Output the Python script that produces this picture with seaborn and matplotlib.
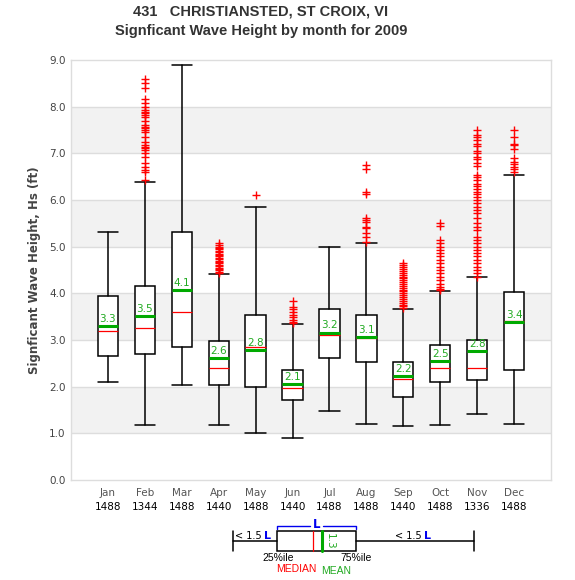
import numpy as np
import pandas as pd
import matplotlib
matplotlib.use("Agg")
import matplotlib.pyplot as plt
import matplotlib.transforms as mtransforms
import seaborn as sns

months = ["Jan", "Feb", "Mar", "Apr", "May", "Jun", "Jul", "Aug", "Sep", "Oct", "Nov", "Dec"]
counts = [1488, 1344, 1488, 1440, 1488, 1440, 1488, 1488, 1440, 1488, 1336, 1488]

# box statistics (ft)
q1 = [2.65, 2.69, 2.84, 2.03, 1.99, 1.71, 2.61, 2.52, 1.77, 2.09, 2.14, 2.35]
median = [3.19, 3.25, 3.59, 2.41, 2.84, 1.97, 3.10, 3.04, 2.16, 2.41, 2.41, 3.40]
q3 = [3.94, 4.15, 5.31, 2.97, 3.53, 2.35, 3.66, 3.53, 2.52, 2.89, 3.01, 4.02]
whis_lo = [2.09, 1.18, 2.03, 1.18, 1.00, 0.91, 1.47, 1.21, 1.15, 1.17, 1.41, 1.21]
whis_hi = [5.31, 6.38, 8.89, 4.41, 5.84, 3.34, 4.99, 5.07, 3.66, 4.06, 4.34, 6.53]
mean = [3.29, 3.52, 4.07, 2.62, 2.79, 2.06, 3.16, 3.06, 2.23, 2.54, 2.76, 3.38]

outliers = {
    "Jan": [],
    "Feb": [6.42, 6.59, 6.64, 6.71, 6.80, 6.93, 7.00, 7.07, 7.11, 7.14, 7.18, 7.25,
            7.36, 7.46, 7.50, 7.54, 7.57, 7.61, 7.70, 7.77, 7.82, 7.86, 7.89, 7.93,
            8.00, 8.07, 8.16, 8.39, 8.50, 8.59],
    "Mar": [],
    "Apr": [4.43, 4.46, 4.49, 4.52, 4.55, 4.58, 4.61, 4.64, 4.67, 4.70, 4.73, 4.76,
            4.79, 4.82, 4.85, 4.88, 4.91, 4.94, 4.97, 5.00, 5.03, 5.07],
    "May": [6.10],
    "Jun": [3.36, 3.39, 3.43, 3.49, 3.54, 3.61, 3.66, 3.71, 3.83],
    "Jul": [],
    "Aug": [5.11, 5.20, 5.30, 5.39, 5.43, 5.53, 5.57, 5.62, 6.13, 6.17, 6.66, 6.74],
    "Sep": [3.68, 3.72, 3.76, 3.80, 3.84, 3.88, 3.92, 3.96, 4.00, 4.04, 4.08, 4.12,
            4.16, 4.20, 4.24, 4.28, 4.32, 4.36, 4.40, 4.44, 4.48, 4.52, 4.56, 4.60, 4.64],
    "Oct": [4.07, 4.10, 4.14, 4.21, 4.29, 4.36, 4.43, 4.50, 4.57, 4.64, 4.71, 4.79,
            4.86, 4.93, 5.00, 5.07, 5.14, 5.44, 5.50],
    "Nov": [4.36, 4.43, 4.50, 4.57, 4.64, 4.71, 4.79, 4.86, 4.93, 5.00, 5.07, 5.14,
            5.21, 5.36, 5.43, 5.50, 5.61, 5.73, 5.79, 5.86, 5.93, 6.00, 6.07, 6.13,
            6.18, 6.23, 6.29, 6.34, 6.43, 6.50, 6.54, 6.73, 6.80, 6.87, 6.93, 7.00,
            7.04, 7.16, 7.21, 7.29, 7.34, 7.39, 7.51],
    "Dec": [6.61, 6.67, 6.71, 6.77, 6.81, 6.90, 7.09, 7.17, 7.21, 7.34, 7.51],
}

sns.set_style("white")
plt.rcParams["font.family"] = ["DejaVu Sans"]

fig = plt.figure(figsize=(5.75, 5.80), dpi=100)
ax = fig.add_axes([71 / 575, 100 / 580, 480 / 575, 420 / 580])

# alternating bands and grid
for lo in [1, 3, 5, 7]:
    ax.axhspan(lo, lo + 1, color="#f2f2f2", zorder=0, lw=0)
for v in range(1, 9):
    ax.axhline(v, color="#dddddd", lw=1, zorder=0.5)

out_df = pd.DataFrame(
    [(m, v) for m in months for v in outliers[m]], columns=["month", "Hs"]
)
sns.stripplot(data=out_df, x="month", y="Hs", order=months, jitter=False,
              marker="+", color="red", size=5.5, linewidth=1, ax=ax, zorder=3)

stats = []
for i, m in enumerate(months):
    stats.append(dict(med=median[i], q1=q1[i], q3=q3[i], whislo=whis_lo[i],
                      whishi=whis_hi[i], mean=mean[i], fliers=[], label=m))

ax.bxp(stats, positions=range(12), widths=0.55, capwidths=0.55,
       showmeans=True, meanline=True, showfliers=False, patch_artist=True,
       manage_ticks=False,
       boxprops=dict(facecolor="white", edgecolor="black", linewidth=1.1),
       whiskerprops=dict(color="black", linewidth=1.1),
       capprops=dict(color="black", linewidth=1.1),
       medianprops=dict(color="red", linewidth=0.9),
       meanprops=dict(color="#00aa00", linewidth=2.2, linestyle="-"),
       zorder=2)

for i, mv in enumerate(mean):
    ax.annotate(f"{mv:.1f}", (i, mv), xytext=(0, 1.5), textcoords="offset points",
                ha="center", va="bottom", fontsize=7.5, color="#22aa22", zorder=4)

ax.set_xlim(-1, 12)
ax.set_ylim(0, 9)
ax.set_yticks(np.arange(0, 9.1, 1.0))
ax.set_yticklabels([f"{v:.1f}" for v in np.arange(0, 9.1, 1.0)], fontsize=7.5, color="#444444")
ax.tick_params(axis="y", length=2, color="#444444", pad=2)
ax.set_xticks(range(12))
ax.set_xticklabels(months, fontsize=7.5, color="#555555")
ax.tick_params(axis="x", length=0, pad=6)
ax.set_xlabel("")
ax.set_ylabel("Signficant Wave Height, Hs (ft)", fontsize=8.5, fontweight="bold",
              color="#444444", labelpad=6)
for s in ax.spines.values():
    s.set_color("#dddddd")
    s.set_linewidth(1)

trans = mtransforms.blended_transform_factory(ax.transData, ax.transAxes)
for i, c in enumerate(counts):
    ax.text(i, -0.065, str(c), transform=trans, ha="center", va="center",
            fontsize=7.5, color="black")

fig.text(261 / 575, 1 - 12 / 580, "431   CHRISTIANSTED, ST CROIX, VI", ha="center", va="center",
         fontsize=10.5, fontweight="bold", color="#333333", family="Liberation Sans")
fig.text(261 / 575, 1 - 31 / 580, "Signficant Wave Height by month for 2009", ha="center",
         va="center", fontsize=10.5, fontweight="bold", color="#333333",
         family="Liberation Sans")

# box legend diagram at the bottom, in pixel coordinates
lg = fig.add_axes([0, 0, 1, 1], zorder=-1)
lg.set_xlim(0, 575)
lg.set_ylim(580, 0)
lg.axis("off")
lw = 1.1
lg.plot([233, 233], [531, 551], color="black", lw=lw)
lg.plot([233, 277], [541, 541], color="black", lw=lw)
lg.plot([356, 474], [541, 541], color="black", lw=lw)
lg.plot([474, 474], [531, 551], color="black", lw=lw)
lg.add_patch(plt.Rectangle((277, 531), 79, 20, fill=False, edgecolor="black", lw=lw))
lg.plot([313, 313], [531, 551], color="red", lw=0.9)
lg.plot([322, 322], [531, 551], color="#00aa00", lw=2.2)
lg.text(330, 541, "1.3", rotation=-90, ha="center", va="center", fontsize=7.5,
        color="#22aa22")
blue = "#0000ee"
lg.plot([277, 277, 310], [529, 525.5, 525.5], color=blue, lw=1)
lg.plot([323, 356, 356], [525.5, 525.5, 529], color=blue, lw=1)
lg.text(316.5, 524, "L", ha="center", va="center", fontsize=8.5, fontweight="bold", color=blue)
lg.text(262, 536, "< 1.5", ha="right", va="center", fontsize=7, color="black")
lg.text(264, 536, "L", ha="left", va="center", fontsize=8, fontweight="bold", color=blue)
lg.text(422, 536, "< 1.5", ha="right", va="center", fontsize=7, color="black")
lg.text(424, 536, "L", ha="left", va="center", fontsize=8, fontweight="bold", color=blue)
lg.text(278, 558, "25%ile", ha="center", va="center", fontsize=7.5, color="black",
        family="Liberation Sans")
lg.text(356, 558, "75%ile", ha="center", va="center", fontsize=7.5, color="black",
        family="Liberation Sans")
lg.text(296, 569, "MEDIAN", ha="center", va="center", fontsize=7.5, color="red",
        family="Liberation Sans")
lg.text(336, 571, "MEAN", ha="center", va="center", fontsize=7.5, color="#22aa22",
        family="Liberation Sans")

fig.savefig("out.png", dpi=100)
